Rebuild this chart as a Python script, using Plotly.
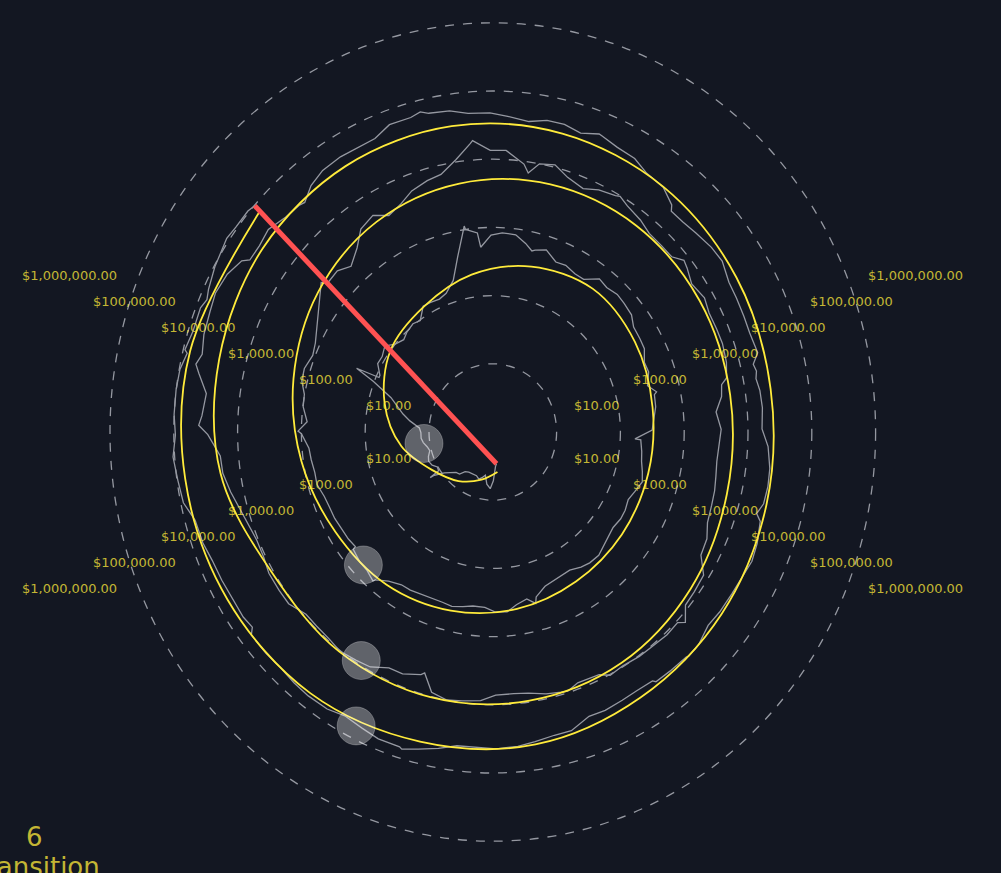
import numpy as np
import pandas as pd
import plotly.graph_objects as go

# ---------------- data ----------------
GENESIS = "2009-01-03"
CYCLE_DAYS = 1461  # one full turn of the spiral = 4 years

# BTC price (USD), first point and semi-monthly values (1st & 15th of each month)
start_dates = ["2011-12-06", "2011-12-15"]
start_prices = [2.95, 3.2]

price_2012 = [5.2, 6.8, 5.9, 4.4, 4.9, 5.3, 4.9, 4.9, 5.0, 5.0, 5.3, 6.4,
              6.7, 7.6, 9.3, 13.0, 10.2, 11.7, 12.4, 11.8, 10.6, 11.2, 12.6, 13.4]
price_2013 = [13.4, 14.2, 20.4, 27, 34.5, 47, 104, 90, 116, 114, 129, 100,
              88, 98, 105, 98, 139, 137, 132, 145, 203, 420, 1000, 850]
price_2014 = [770, 840, 820, 650, 560, 630, 480, 500, 450, 450, 630, 590,
              640, 620, 590, 490, 480, 470, 385, 395, 330, 390, 380, 345]
price_2015 = [315, 210, 225, 235, 260, 285, 245, 220, 235, 237, 223, 236,
              257, 285, 280, 260, 228, 230, 237, 254, 325, 320, 362, 445]
price_2016 = [434, 375, 372, 400, 433, 415, 416, 429, 451, 456, 536, 690,
              676, 665, 607, 568, 573, 607, 613, 638, 727, 712, 750, 779]
price_2017 = [1000, 820, 990, 1010, 1220, 1250, 1090, 1180, 1420, 1750, 2400, 2440,
              2480, 1960, 2730, 4200, 4900, 3700, 4400, 5700, 6700, 7300, 10900, 17600]
price_2018 = [13500, 13600, 9100, 10000, 10900, 8200, 6900, 8300, 9200, 8500, 7500, 6400,
              6350, 6350, 7600, 6300, 7200, 6500, 6600, 6700, 6350, 5600, 4200, 3250]
price_2019 = [3800, 3600, 3450, 3600, 3820, 3930, 4150, 5050, 5350, 8200, 8560, 8800,
              10600, 10900, 10400, 10300, 9750, 10300, 8300, 8150, 9200, 8500, 7400, 7100]
price_2020 = [7200, 8800, 9400, 9900, 8600, 5400, 6600, 6650, 8800, 9400, 10200, 9400,
              9230, 9200, 11800, 11900, 11900, 10800, 10600, 11500, 13700, 15900, 18800, 19300]
price_2021 = [29300, 36800, 33500, 48700, 49600, 56000, 59000, 63200, 57800, 46400, 36700, 40200,
              33500, 31800, 39900, 47000, 48800, 48000, 48200, 61500, 61300, 60300, 57200, 48900]
price_2022 = [47700, 43100, 38700, 44500, 44400, 39300, 46300, 40500, 38500, 31300, 29800, 22600,
              19300, 20800, 23300, 24100, 20100, 19700, 19300, 19100, 20500, 16900, 17000, 17400]
price_2023 = [16600, 20900, 23700, 24300, 23600, 24700, 28500, 30300, 28100, 27200, 26800, 25600,
              30600, 30300, 29700, 29200, 25900, 26600, 27900, 27100, 35400, 35500, 38700, 42300]
price_2024 = [44200, 42500, 43100, 52000, 62400, 69500, 69700, 63400, 58200, 66200, 67700, 66000,
              62700, 64800, 65300, 57600, 57300, 59100, 60800, 67000, 69500, 91000, 97200, 104500]
price_2025 = [94400, 100500, 100600, 97500, 94200, 84300, 85200, 83600, 96500, 103700, 105600, 105500]

end_dates = ["2025-06-21"]
end_prices = [98500]

# notable daily highs / lows between the semi-monthly points
extreme_dates = ["2012-08-17", "2012-08-19", "2013-04-09", "2013-04-11", "2013-11-30",
                 "2013-12-18", "2014-02-25", "2014-11-12", "2015-01-14", "2015-11-04",
                 "2016-06-17", "2016-08-02", "2017-01-04", "2017-06-11", "2017-09-01",
                 "2017-12-17", "2018-02-06", "2018-05-05", "2018-07-25", "2018-11-20",
                 "2019-06-26", "2019-09-24", "2019-10-26", "2020-03-12", "2021-01-08",
                 "2021-02-21", "2021-04-13", "2021-05-19", "2021-07-20", "2021-11-09",
                 "2022-03-29", "2022-06-18", "2022-11-09", "2022-11-21", "2023-03-10",
                 "2023-07-13", "2023-08-17", "2024-03-13", "2024-08-05", "2024-12-17",
                 "2025-02-27", "2025-04-08", "2025-05-22"]
extreme_prices = [15.4, 10.5, 214, 90, 1130,
                  520, 530, 430, 170, 400,
                  760, 540, 1130, 2950, 4900,
                  19200, 6900, 9800, 8200, 4500,
                  12900, 8500, 9500, 4900, 40800,
                  57400, 63500, 37000, 29800, 67600,
                  47500, 19000, 15900, 15800, 20200,
                  31500, 26600, 73000, 54000, 106000,
                  84700, 76300, 111000]

# smoothed trend (yellow), quarterly
trend_start_date = "2011-12-06"
trend_start_price = 3.9
trend_prices = [5.25, 7.9, 12.6, 28.2,
                56, 100, 135, 214,
                316, 417, 389, 339,
                324, 331, 355, 417,
                501, 617, 741, 1072,
                1660, 2630, 3800, 4790,
                5500, 5890, 5890, 5750,
                6030, 7240, 8710, 9550,
                10230, 10470, 10720, 20420,
                26300, 31620, 33880, 33880,
                32360, 30200, 27540, 25120,
                26300, 29510, 33880, 42660,
                47860, 60260, 67610, 74130,
                77620]
trend_end_date = "2025-06-21"
trend_end_price = 75860

# halvings
halving_dates = ["2012-11-28", "2016-07-09", "2020-05-11", "2024-04-20"]
halving_prices = [12.35, 650.6, 8600, 64900]

# price levels (dashed rings) and labels
level_values = [10, 100, 1000, 10000, 100000, 1000000]
level_labels = ["$10.00", "$100.00", "$1,000.00", "$10,000.00", "$100,000.00", "$1,000,000.00"]
LABEL_ANGLE_DEG = 22.5

corner_lines = ["6", "Transition"]

# ---------------- styling ----------------
BG = "#131722"
GREY = "#9598a1"
YELLOW = "#ffeb3b"
RED = "#ff5252"
LABEL = "rgba(255,235,59,0.76)"
FONT = "DejaVu Sans"


def to_xy(dates, prices):
    d = (pd.to_datetime(pd.Series(dates)) - pd.Timestamp(GENESIS)).dt.days.values
    r = np.log10(np.asarray(prices, dtype=float))
    th = np.pi - 2 * np.pi * d / CYCLE_DAYS
    return r * np.cos(th), r * np.sin(th)


# assemble price series
grid_dates = pd.date_range("2012-01-01", "2025-06-15", freq="SMS")
grid_prices = (price_2012 + price_2013 + price_2014 + price_2015 + price_2016 + price_2017 +
               price_2018 + price_2019 + price_2020 + price_2021 + price_2022 + price_2023 +
               price_2024 + price_2025)
assert len(grid_dates) == len(grid_prices)
assert len(extreme_dates) == len(extreme_prices)

df = pd.DataFrame({
    "date": list(pd.to_datetime(start_dates)) + list(grid_dates) + list(pd.to_datetime(extreme_dates))
            + list(pd.to_datetime(end_dates)),
    "price": start_prices + grid_prices + extreme_prices + end_prices,
}).sort_values("date").reset_index(drop=True)

px_, py_ = to_xy(df["date"], df["price"])

trend_dates = ([trend_start_date] + [d.strftime("%Y-%m-%d") for d in pd.date_range("2012-03-01", "2025-03-01", freq="3MS")]
               + [trend_end_date])
trend_vals = [trend_start_price] + trend_prices + [trend_end_price]
assert len(trend_dates) == len(trend_vals)
tx, ty = to_xy(trend_dates, trend_vals)

hx, hy = to_xy(halving_dates, halving_prices)

fig = go.Figure()

# dashed price-level rings
for v in level_values:
    r = np.log10(v)
    fig.add_shape(type="circle", xref="x", yref="y", x0=-r, y0=-r, x1=r, y1=r,
                  line=dict(color=GREY, width=1.3, dash="dash"), layer="below")

fig.add_trace(go.Scatter(x=px_, y=py_, mode="lines",
                         line=dict(color=GREY, width=1.3), hoverinfo="skip"))
fig.add_trace(go.Scatter(x=tx, y=ty, mode="lines", line_shape="spline",
                         line=dict(color=YELLOW, width=1.8), hoverinfo="skip"))
fig.add_trace(go.Scatter(x=[px_[0], px_[-1]], y=[py_[0], py_[-1]], mode="lines",
                         line=dict(color=RED, width=5), hoverinfo="skip"))
fig.add_trace(go.Scatter(x=hx, y=hy, mode="markers",
                         marker=dict(size=38, color="rgba(255,255,255,0.33)",
                                     line=dict(color="rgba(255,255,255,0.25)", width=1)),
                         hoverinfo="skip"))

# level labels along four rays
a = np.deg2rad(LABEL_ANGLE_DEG)
for v, lab in zip(level_values, level_labels):
    r = np.log10(v)
    for sy in (1, -1):
        fig.add_annotation(x=r * np.cos(a), y=sy * r * np.sin(a), text=lab, showarrow=False,
                           xanchor="left", yanchor="middle", xshift=20,
                           font=dict(family=FONT, size=13, color=LABEL))
        fig.add_annotation(x=-r * np.cos(a), y=sy * r * np.sin(a), text=lab, showarrow=False,
                           xanchor="right", yanchor="middle", xshift=-20,
                           font=dict(family=FONT, size=13, color=LABEL))

fig.add_annotation(xref="paper", yref="paper", x=34 / 1001, y=1 - 836.5 / 873, text=corner_lines[0],
                   showarrow=False, xanchor="center", yanchor="middle",
                   font=dict(family=FONT, size=26, color=LABEL))
fig.add_annotation(xref="paper", yref="paper", x=36 / 1001, y=1 - 867 / 873, text=corner_lines[1],
                   showarrow=False, xanchor="center", yanchor="middle",
                   font=dict(family=FONT, size=26, color=LABEL))

X0, Y0, SX, SY = 492.8, 432.0, 63.8, 68.2
W, H = 1001, 873
fig.update_layout(
    width=W, height=H,
    margin=dict(l=0, r=0, t=0, b=0),
    paper_bgcolor=BG, plot_bgcolor=BG,
    showlegend=False,
    hovermode=False,
    xaxis=dict(range=[-X0 / SX, (W - X0) / SX], visible=False, fixedrange=True),
    yaxis=dict(range=[(Y0 - H) / SY, Y0 / SY], visible=False, fixedrange=True),
)

fig.write_html("out.html", config={"displayModeBar": False},
               post_script="document.body.style.margin='0';document.body.style.background='#131722';")
